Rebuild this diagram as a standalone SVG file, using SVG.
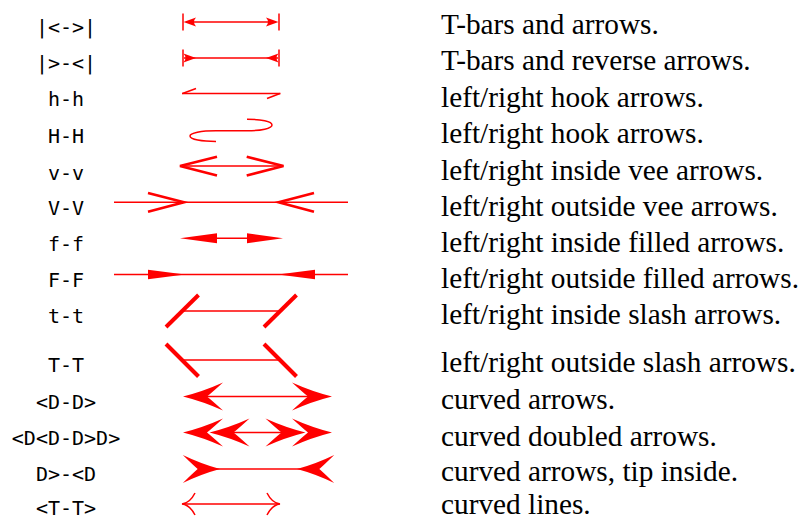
<svg xmlns="http://www.w3.org/2000/svg" width="806" height="521" viewBox="0 0 806 521">
<defs>
<style>
.lbl{font-family:"DejaVu Sans Mono",monospace;font-size:20px;fill:#000;text-anchor:middle}
.dsc{font-family:"Liberation Serif","Times New Roman",serif;font-size:29.3px;fill:#000}
.ln{stroke:#ff0000;stroke-width:1.5;fill:none}
.thk{stroke:#ff0000;stroke-width:2.6;fill:none;stroke-linejoin:miter}
.sl{stroke:#ff0000;stroke-width:4;fill:none}
.fl{fill:#ff0000;stroke:none}
</style>
<path id="dL" d="M0,0 Q20,-5 40,-14 Q29,-4 24,0 Q29,4 40,14 Q20,5 0,0 Z"/>
</defs>
<rect width="806" height="521" fill="#fff"/>

<g id="labels">
<text class="lbl" x="66" y="34">|&lt;-&gt;|</text>
<text class="lbl" x="66" y="70">|&gt;-&lt;|</text>
<text class="lbl" x="66" y="106">h-h</text>
<text class="lbl" x="66" y="143">H-H</text>
<text class="lbl" x="66" y="180">v-v</text>
<text class="lbl" x="66" y="215">V-V</text>
<text class="lbl" x="66" y="251">f-f</text>
<text class="lbl" x="66" y="287">F-F</text>
<text class="lbl" x="66" y="323">t-t</text>
<text class="lbl" x="66" y="372">T-T</text>
<text class="lbl" x="66" y="409">&lt;D-D&gt;</text>
<text class="lbl" x="66" y="445">&lt;D&lt;D-D&gt;D&gt;</text>
<text class="lbl" x="66" y="481">D&gt;-&lt;D</text>
<text class="lbl" x="66" y="515">&lt;T-T&gt;</text>
</g>

<g id="descriptions">
<text class="dsc" x="441" y="34">T-bars and arrows.</text>
<text class="dsc" x="441" y="70">T-bars and reverse arrows.</text>
<text class="dsc" x="441" y="107">left/right hook arrows.</text>
<text class="dsc" x="441" y="143">left/right hook arrows.</text>
<text class="dsc" x="441" y="180">left/right inside vee arrows.</text>
<text class="dsc" x="441" y="216">left/right outside vee arrows.</text>
<text class="dsc" x="441" y="252">left/right inside filled arrows.</text>
<text class="dsc" x="441" y="288">left/right outside filled arrows.</text>
<text class="dsc" x="441" y="324">left/right inside slash arrows.</text>
<text class="dsc" x="441" y="372">left/right outside slash arrows.</text>
<text class="dsc" x="441" y="409">curved arrows.</text>
<text class="dsc" x="441" y="446">curved doubled arrows.</text>
<text class="dsc" x="441" y="481">curved arrows, tip inside.</text>
<text class="dsc" x="441" y="514">curved lines.</text>
</g>

<g id="connectors">
<g id="r1">
<line class="ln" x1="186" y1="22" x2="276" y2="22"/>
<line class="ln" x1="183" y1="13.5" x2="183" y2="30.5"/>
<line class="ln" x1="279" y1="13.5" x2="279" y2="30.5"/>
<path class="fl" d="M183.5,22 L196,17.5 Q192,22 196,26.5 Z"/>
<path class="fl" d="M278.5,22 L266,17.5 Q270,22 266,26.5 Z"/>
</g>
<g id="r2">
<line class="ln" x1="184" y1="58" x2="278" y2="58"/>
<line class="ln" x1="183" y1="49.5" x2="183" y2="66.5"/>
<line class="ln" x1="279" y1="49.5" x2="279" y2="66.5"/>
<path class="fl" d="M196,58 L183.5,53.5 Q187.5,58 183.5,62.5 Z"/>
<path class="fl" d="M266,58 L278.5,53.5 Q274.5,58 278.5,62.5 Z"/>
</g>
<g id="r3">
<line class="ln" x1="182" y1="93.5" x2="280.5" y2="93.5"/>
<line class="ln" x1="182.5" y1="93.5" x2="196" y2="88.5"/>
<line class="ln" x1="280" y1="93.5" x2="267" y2="98.5"/>
</g>
<g id="r4">
<path class="ln" d="M216,141.5 C202,141.5 190,139.5 190,136 C190,133 201,130.8 216,130.8 L247,130.8 C261,130.8 272,128.5 272,125 C272,121.5 261,119.2 247,119.2" stroke-width="2"/>
</g>
<g id="r5">
<line class="ln" x1="180" y1="166" x2="283" y2="166" stroke-width="1.2"/>
<polyline class="thk" points="217,156.7 180,166 217,175.5"/>
<polyline class="thk" points="246.7,156.7 283.5,166 246.7,175.5"/>
</g>
<g id="r6">
<line class="ln" x1="114" y1="202.3" x2="348" y2="202.3" stroke-width="1.2"/>
<polyline class="thk" points="148,193 184,202.3 148,211.8"/>
<polyline class="thk" points="314,193 278.5,202.3 314,211.8"/>
</g>
<g id="r7">
<line class="ln" x1="215" y1="238.3" x2="249" y2="238.3" stroke-width="1.2"/>
<path class="fl" d="M180,238.3 L217,233.3 L217,243.3 Z"/>
<path class="fl" d="M283,238.3 L247,233.3 L247,243.3 Z"/>
</g>
<g id="r8">
<line class="ln" x1="114" y1="274.5" x2="348" y2="274.5" stroke-width="1.2"/>
<path class="fl" d="M148,269.8 L185,274.5 L148,279.3 Z"/>
<path class="fl" d="M315,269.8 L278,274.5 L315,279.3 Z"/>
</g>
<g id="r9">
<line class="ln" x1="184" y1="311" x2="279" y2="311" stroke-width="1.3"/>
<line class="sl" x1="166" y1="327" x2="198.5" y2="295"/>
<line class="sl" x1="264" y1="327" x2="296.5" y2="295"/>
</g>
<g id="r10">
<line class="ln" x1="184" y1="360" x2="279" y2="360" stroke-width="1.3"/>
<line class="sl" x1="166" y1="344" x2="198.5" y2="376.5"/>
<line class="sl" x1="264" y1="344" x2="296.5" y2="376.5"/>
</g>
<g id="r11">
<line class="ln" x1="205" y1="396.5" x2="310" y2="396.5"/>
<use href="#dL" class="fl" transform="translate(183,396.5)"/>
<use href="#dL" class="fl" transform="translate(332,396.5) scale(-1,1)"/>
</g>
<g id="r12">
<line class="ln" x1="232" y1="432.5" x2="283" y2="432.5"/>
<use href="#dL" class="fl" transform="translate(183,432.5)"/>
<use href="#dL" class="fl" transform="translate(209.5,432.5)"/>
<use href="#dL" class="fl" transform="translate(332,432.5) scale(-1,1)"/>
<use href="#dL" class="fl" transform="translate(305.5,432.5) scale(-1,1)"/>
</g>
<g id="r13">
<line class="ln" x1="205" y1="469" x2="310" y2="469"/>
<use href="#dL" class="fl" transform="translate(220,469) scale(-0.93,1)"/>
<use href="#dL" class="fl" transform="translate(297,469) scale(0.93,1)"/>
</g>
<g id="r14">
<line class="ln" x1="182.5" y1="504" x2="279.5" y2="504"/>
<path class="ln" stroke-width="1.8" d="M195,493 Q190,503 182,504 Q190,505 195,515"/>
<path class="ln" stroke-width="1.8" d="M267,493 Q272,503 280,504 Q272,505 267,515"/>
</g>
</g>
</svg>
